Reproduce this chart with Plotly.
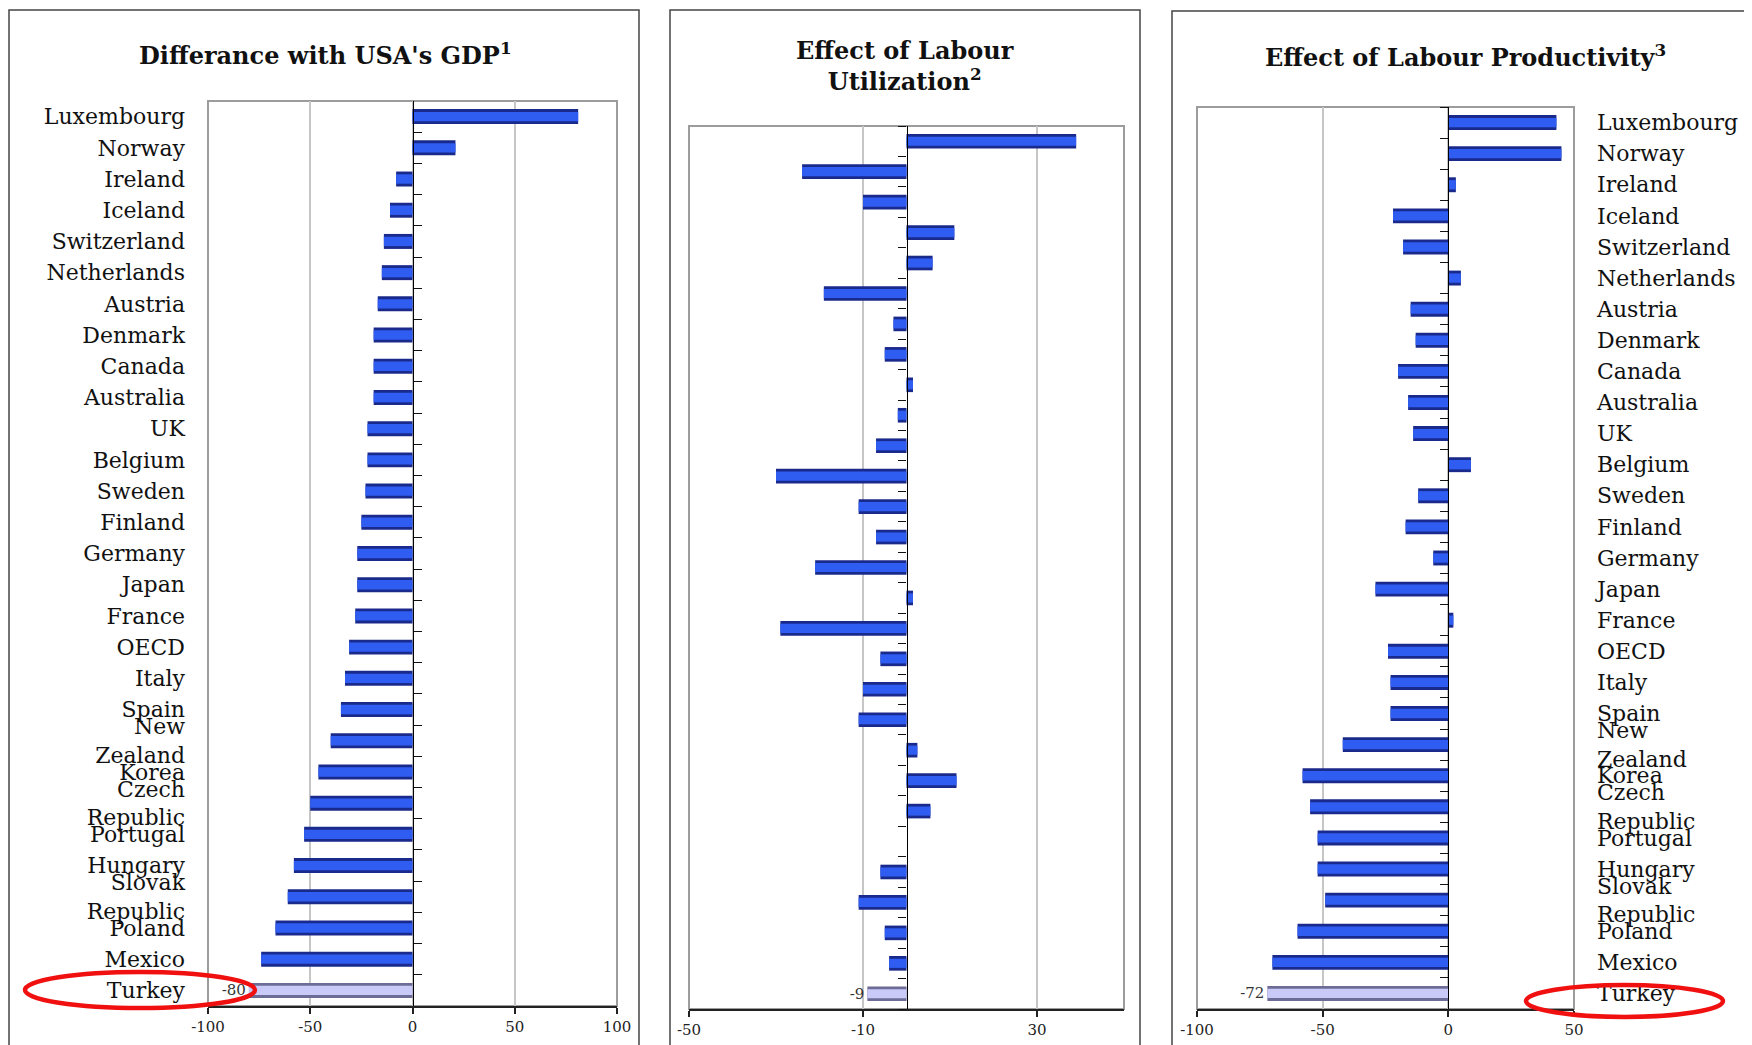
import plotly.graph_objects as go

# the page puts the figure 8 px in from the top-left corner
PAGE_W, PAGE_H, OFF = 1752, 1045, 8
W, H = PAGE_W - OFF, PAGE_H - OFF

countries = ["Luxembourg", "Norway", "Ireland", "Iceland", "Switzerland", "Netherlands",
             "Austria", "Denmark", "Canada", "Australia", "UK", "Belgium", "Sweden",
             "Finland", "Germany", "Japan", "France", "OECD", "Italy", "Spain",
             "New Zealand", "Korea", "Czech Republic", "Portugal", "Hungary",
             "Slovak Republic", "Poland", "Mexico", "Turkey"]

# percentage gap with the USA (GDP per capita) and its two components
gdp_gap = [81, 21, -8, -11, -14, -15, -17, -19, -19, -19, -22, -22, -23, -25, -27,
           -27, -28, -31, -33, -35, -40, -46, -50, -53, -58, -61, -67, -74, -80]
labour_util = [39, -24, -10, 11, 6, -19, -3, -5, 1.5, -2, -7, -30, -11, -7, -21,
               1.5, -29, -6, -10, -11, 2.5, 11.5, 5.5, 0, -6, -11, -5, -4, -9]
labour_prod = [43, 45, 3, -22, -18, 5, -15, -13, -20, -16, -14, 9, -12, -17, -6,
               -29, 2, -24, -23, -23, -42, -58, -55, -52, -52, -49, -60, -70, -72]

gdp_ticks = [-100, -50, 0, 50, 100]
util_ticks = [-50, -10, 30]
prod_ticks = [-100, -50, 0, 50]

titles = ["Differance with USA's GDP<sup>1</sup>",
          "Effect of Labour<br>Utilization<sup>2</sup>",
          "Effect of Labour Productivity<sup>3</sup>"]

HIGHLIGHT = "Turkey"
tick_labels = [c.replace(" ", "<br>") for c in countries]
pos = list(range(len(countries)))

FONT = "DejaVu Serif"


def fx(p):
    return (p - OFF) / W


def fy(p):
    return 1 - (p - OFF) / H


# layout of the three panels (pixels): plot area, axis range, label side, tick direction
panels = [
    dict(vals=gdp_gap, ticks=gdp_ticks, px=(208, 617), py=(101, 1006), rng=[-100, 100],
         labels="left", zticks="inside", box=(9, 639, 10), title_xy=(325, 54)),
    dict(vals=labour_util, ticks=util_ticks, px=(689, 1124), py=(126, 1009), rng=[-50, 50],
         labels=None, zticks="outside", box=(670, 1140, 10), title_xy=(905, 66)),
    dict(vals=labour_prod, ticks=prod_ticks, px=(1197, 1574), py=(107, 1009), rng=[-100, 50],
         labels="right", zticks="outside", box=(1172, 1800, 11), title_xy=(1465, 56)),
]

fig = go.Figure()
layout = dict(width=W, height=H, margin=dict(l=0, r=0, t=0, b=0, autoexpand=False),
              paper_bgcolor="white", plot_bgcolor="rgba(0,0,0,0)",
              showlegend=False, barmode="overlay",
              font=dict(family=FONT, color="#111"))
shapes = []
annotations = []

n = len(countries)
for i, p in enumerate(panels, start=1):
    xa = "x" if i == 1 else f"x{i}"
    ya = "y" if i == 1 else f"y{i}"
    za = f"y{i + 3}"
    vals = p["vals"]

    dark = ["#6c6c96" if c == HIGHLIGHT else "#1a2a8c" for c in countries]
    light = ["#cacaf8" if c == HIGHLIGHT else "#2f5df2" for c in countries]
    text = [f"{v:g}" if c == HIGHLIGHT else " " for c, v in zip(countries, vals)]

    fig.add_trace(go.Bar(
        x=vals, y=pos, orientation="h", xaxis=xa, yaxis=ya, width=0.48,
        marker=dict(color=dark, line=dict(width=0)),
        text=text, textposition="outside", cliponaxis=False, constraintext="none",
        textfont=dict(size=15, color="#333", family=FONT),
        hoverinfo="skip"))
    fig.add_trace(go.Bar(
        x=vals, y=pos, orientation="h", xaxis=xa, yaxis=ya, width=0.30,
        marker=dict(color=light, line=dict(width=0)),
        hoverinfo="skip"))
    # carrier for the zero line axis with its category tick marks
    fig.add_trace(go.Scatter(x=[0], y=[0], xaxis=xa, yaxis=za, mode="markers",
                             marker=dict(opacity=0), hoverinfo="skip"))

    x0, x1 = fx(p["px"][0]), fx(p["px"][1])
    y0, y1 = fy(p["py"][1]), fy(p["py"][0])
    zero_pos = x0 + (0 - p["rng"][0]) / (p["rng"][1] - p["rng"][0]) * (x1 - x0)

    layout["xaxis" + ("" if i == 1 else str(i))] = dict(
        domain=[x0, x1], anchor=ya, range=p["rng"],
        tickmode="array", tickvals=p["ticks"], ticktext=[str(t) for t in p["ticks"]],
        showgrid=True, gridcolor="#c6c6c6", gridwidth=2, zeroline=False,
        showline=True, linecolor="#222", linewidth=1.5, automargin=False,
        ticks="outside", ticklen=6, tickcolor="#222", tickwidth=1.5,
        tickfont=dict(size=15, color="#222", family=FONT))
    ydict = dict(domain=[y0, y1], anchor=xa, range=[n - 0.5, -0.5], automargin=False,
                 tickmode="array", tickvals=pos, ticktext=tick_labels,
                 showgrid=False, zeroline=False, showline=False, ticks="",
                 tickfont=dict(size=22, color="#111", family=FONT))
    if p["labels"] is None:
        ydict["showticklabels"] = False
    else:
        ydict["side"] = p["labels"]
        ydict["ticklabelstandoff"] = 22
    layout["yaxis" + ("" if i == 1 else str(i))] = ydict
    layout[f"yaxis{i + 3}"] = dict(
        overlaying=ya, anchor="free", position=zero_pos, range=[n - 0.5, -0.5],
        tickmode="array", tickvals=[k - 0.5 for k in range(n + 1)], automargin=False,
        ticks=p["zticks"], ticklen=8, tickcolor="#111", tickwidth=1.2,
        showticklabels=False, showgrid=False, zeroline=False,
        showline=True, linecolor="#000", linewidth=1.3)

    # plot area frame
    shapes.append(dict(type="rect", xref=f"{xa} domain", yref=f"{ya} domain",
                       x0=0, x1=1, y0=0, y1=1, layer="below",
                       line=dict(color="#9c9c9c", width=2)))
    # outer panel frame
    bx0, bx1, by = p["box"]
    shapes.append(dict(type="rect", xref="paper", yref="paper",
                       x0=fx(bx0), x1=fx(bx1), y0=-0.05, y1=fy(by),
                       line=dict(color="#444", width=1.5)))
    tx, ty = p["title_xy"]
    annotations.append(dict(xref="paper", yref="paper", x=fx(tx), y=fy(ty),
                            text=f"<b>{titles[i - 1]}</b>", showarrow=False,
                            xanchor="center", yanchor="middle",
                            font=dict(size=24, color="#111", family=FONT)))

# red ellipses around Turkey
for ex0, ex1, ey0, ey1 in [(25, 255, 972, 1008), (1526, 1723, 985, 1017)]:
    shapes.append(dict(type="circle", xref="paper", yref="paper",
                       x0=fx(ex0), x1=fx(ex1), y0=fy(ey1), y1=fy(ey0),
                       line=dict(color="#f01010", width=4.5)))

layout["shapes"] = shapes
layout["annotations"] = annotations
fig.update_layout(**layout)

fig.write_html("out.html")
